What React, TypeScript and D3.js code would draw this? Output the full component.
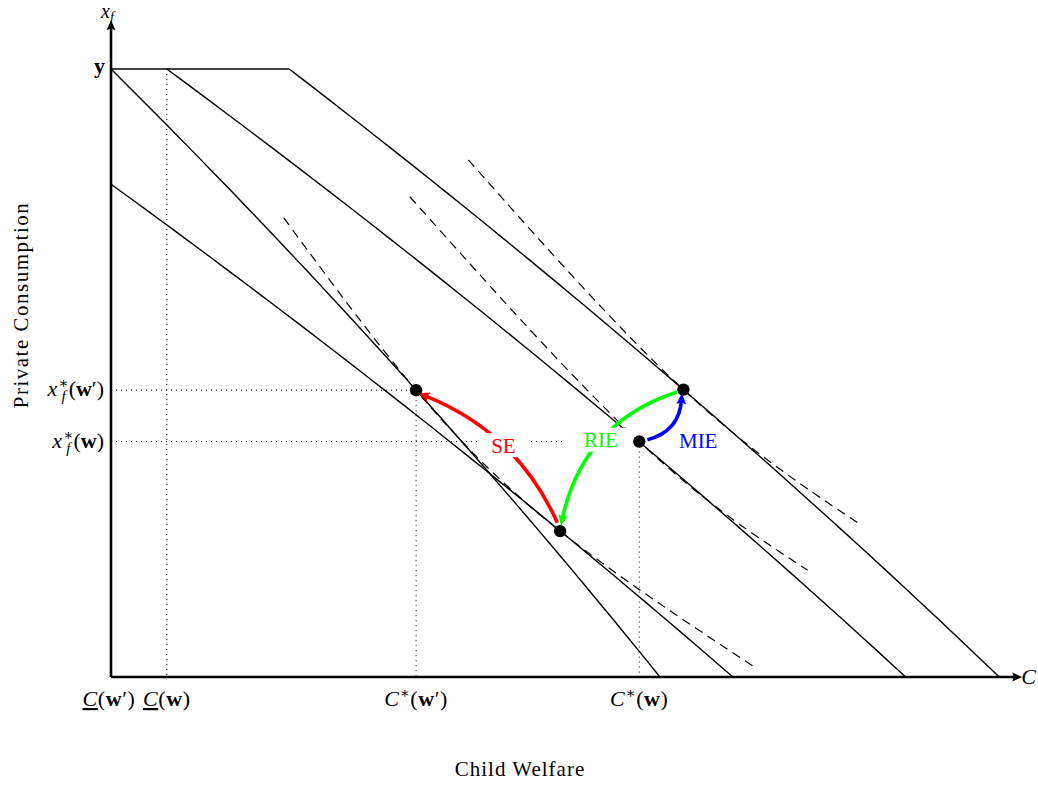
import * as d3 from 'd3';

// income level "y" on the x_f axis
const incomeXf = 10;

// minimum child welfare levels C(w'), C(w)
const cMinLabels = ["w′", "w"];
const cMinC = [0, 0.62];

// budget lines: w', compensated, w, w with more income
const budgetStartC = [0, 0, 0.62, 1.98];
const budgetStartXf = [10, 7.93, 10, 10];
const budgetEndC = [6.1, 6.91, 8.83, 9.87];

// optimal bundles: w', compensated, w, income-raised
const optC = [3.39, 4.99, 5.87, 6.36];
const optXf = [4.44, 2.2, 3.61, 4.45];

// indifference curves (dashed)
const ic1C = [1.92, 3.39, 4.99, 7.18];
const ic1Xf = [7.34, 4.44, 2.2, 0.12];
const ic2C = [3.32, 5.87, 7.74];
const ic2Xf = [7.71, 3.61, 1.6];
const ic3C = [3.97, 6.36, 8.34];
const ic3Xf = [8.36, 4.45, 2.29];

// effect arrows
const effectNames = ['SE', 'RIE', 'MIE'];
const effectColors = ['#ff0000', '#00ff00', '#0000ff'];
const effectFromC = [4.96, 6.29, 5.96];
const effectFromXf = [2.33, 4.41, 3.64];
const effectToC = [3.47, 5.01, 6.34];
const effectToXf = [4.36, 2.36, 4.31];
const effectBend = [19, 25, 10];

const axisMaxC = 10.08;
const axisMaxXf = 10.83;

const FONT = '"Liberation Serif", "DejaVu Serif", serif';

const zip = (a: number[], b: number[]) => a.map((v, i) => [v, b[i]] as [number, number]);

export default function App() {
  const width = 1038;
  const height = 785;

  const x = d3.scaleLinear().domain([0, 10]).range([111, 1011]);
  const y = d3.scaleSymlog().constant(40).domain([0, 10]).range([677, 69]);

  const seg = d3.line<[number, number]>().x(d => x(d[0])).y(d => y(d[1]));
  const smooth = d3.line<[number, number]>().x(d => x(d[0])).y(d => y(d[1])).curve(d3.curveNatural);

  // straight budget lines, sampled so the axis scale shapes them
  const budgets = budgetStartC.map((c, i) =>
    d3.range(0, 1.0001, 0.02).map(t => [c + t * (budgetEndC[i] - c), budgetStartXf[i] * (1 - t)] as [number, number]));
  const cap: [number, number][] = [[0, incomeXf], [budgetStartC[3], incomeXf]];
  const ics = [zip(ic1C, ic1Xf), zip(ic2C, ic2Xf), zip(ic3C, ic3Xf)];

  const arrows = effectNames.map((name, i) => {
    const x0 = x(effectFromC[i]), y0 = y(effectFromXf[i]);
    const x1 = x(effectToC[i]), y1 = y(effectToXf[i]);
    const dx = x1 - x0, dy = y1 - y0;
    const len = Math.hypot(dx, dy);
    const nx = -dy / len, ny = dx / len;
    const cx = (x0 + x1) / 2 + nx * 2 * effectBend[i];
    const cy = (y0 + y1) / 2 + ny * 2 * effectBend[i];
    const mx = 0.25 * x0 + 0.5 * cx + 0.25 * x1;
    const my = 0.25 * y0 + 0.5 * cy + 0.25 * y1;
    return { name, color: effectColors[i], d: `M${x0},${y0} Q${cx},${cy} ${x1},${y1}`, mx, my };
  });

  // dotted guides for the two chosen bundles
  const guideIdx = [0, 2];

  return (
    <svg width={width} height={height} style={{ position: 'absolute', left: 0, top: 0, background: '#fff' }}
      fontFamily={FONT}>
      <defs>
        {effectColors.map((c, i) => (
          <marker key={i} id={`head${i}`} viewBox="-8 -6 14 12" refX={0} refY={0}
            markerWidth={14} markerHeight={12} markerUnits="userSpaceOnUse" orient="auto">
            <path d="M5,0 L-6,-5 Q-3,0 -6,5 Z" fill={c} />
          </marker>
        ))}
        <marker id="axisHead" viewBox="-8 -6 14 12" refX={0} refY={0}
          markerWidth={14} markerHeight={12} markerUnits="userSpaceOnUse" orient="auto">
          <path d="M4,0 L-6,-4.5 Q-3.5,0 -6,4.5 Z" fill="#000" />
        </marker>
      </defs>

      {/* dotted guides */}
      <line x1={x(cMinC[1])} y1={y(incomeXf)} x2={x(cMinC[1])} y2={y(0)}
        stroke="#000" strokeWidth={1} strokeDasharray="1 4" />
      {guideIdx.map(i => (
        <g key={i}>
          <line x1={x(0)} y1={y(optXf[i])} x2={x(optC[i])} y2={y(optXf[i])}
            stroke="#000" strokeWidth={1} strokeDasharray="1 4" />
          <line x1={x(optC[i])} y1={y(optXf[i])} x2={x(optC[i])} y2={y(0)}
            stroke="#000" strokeWidth={1} strokeDasharray="1 4" />
        </g>
      ))}

      {/* indifference curves */}
      {ics.map((pts, i) => (
        <path key={i} d={smooth(pts) ?? ''} fill="none" stroke="#000" strokeWidth={1.2} strokeDasharray="9 6" />
      ))}

      {/* budget lines */}
      <path d={seg(cap) ?? ''} fill="none" stroke="#000" strokeWidth={1.4} />
      {budgets.map((b, i) => (
        <path key={i} d={seg(b) ?? ''} fill="none" stroke="#000" strokeWidth={1.4} />
      ))}

      {/* axes */}
      <line x1={x(0)} y1={y(0)} x2={x(axisMaxC)} y2={y(0)} stroke="#000" strokeWidth={2.6} markerEnd="url(#axisHead)" />
      <line x1={x(0)} y1={y(0)} x2={x(0)} y2={y(axisMaxXf)} stroke="#000" strokeWidth={2.6} markerEnd="url(#axisHead)" />

      {/* effect arrows */}
      {arrows.map((a, i) => (
        <path key={a.name} d={a.d} fill="none" stroke={a.color} strokeWidth={3.6} markerEnd={`url(#head${i})`} />
      ))}
      {arrows.map((a, i) => i < 2 ? (
        <g key={a.name}>
          <rect x={a.mx - (a.name.length * 9 + 8)} y={a.my - 12} width={a.name.length * 18 + 16} height={24} fill="#fff" />
          <text x={a.mx} y={a.my} dy="0.35em" textAnchor="middle" fontSize={21} fill={a.color}>{a.name}</text>
        </g>
      ) : (
        <text key={a.name} x={a.mx + 26} y={a.my + 15} dy="0.35em" textAnchor="middle" fontSize={21} fill={a.color}>{a.name}</text>
      ))}

      {/* bundles */}
      {optC.map((c, i) => (
        <circle key={i} cx={x(c)} cy={y(optXf[i])} r={6.2} fill="#000" />
      ))}

      {/* axis labels */}
      <text x={x(0) - 10} y={18} fontSize={20}>
        <tspan fontStyle="italic">x</tspan>
        <tspan fontSize={14} fontStyle="italic" dy={4}>f</tspan>
      </text>
      <text x={x(axisMaxC) + 3} y={y(0) + 7} fontSize={22} fontStyle="italic">C</text>
      <text x={x(0) - 6} y={y(incomeXf) + 4} fontSize={22} fontWeight="bold" textAnchor="end">y</text>

      {/* x_f* labels */}
      {[0, 2].map((idx, k) => (
        <text key={idx} x={x(0) - 7} y={y(optXf[idx]) + 6} fontSize={22} textAnchor="end">
          <tspan fontStyle="italic">x</tspan>
          <tspan fontSize={15} dy={-8} dx={1}>∗</tspan>
          <tspan fontSize={15} fontStyle="italic" dx={-7} dy={13}>f</tspan>
          <tspan dy={-5} dx={3}>(</tspan>
          <tspan fontWeight="bold">w</tspan>
          {k === 0 ? <tspan>′</tspan> : null}
          <tspan>)</tspan>
        </text>
      ))}

      {/* C labels on the horizontal axis */}
      {cMinC.map((c, i) => (
        <text key={i} x={x(c) + (i === 0 ? -2 : 0)} y={y(0) + 29} fontSize={22} textAnchor="middle" letterSpacing={0.6}>
          <tspan fontStyle="italic" style={{ textDecoration: 'underline' }}>C</tspan>
          <tspan>(</tspan>
          <tspan fontWeight="bold">w</tspan>
          {cMinLabels[i] === 'w′' ? <tspan>′</tspan> : null}
          <tspan>)</tspan>
        </text>
      ))}
      {[0, 2].map((idx, k) => (
        <text key={idx} x={x(optC[idx])} y={y(0) + 29} fontSize={22} textAnchor="middle" letterSpacing={0.6}>
          <tspan fontStyle="italic">C</tspan>
          <tspan fontSize={15} dy={-8}>∗</tspan>
          <tspan dy={8}>(</tspan>
          <tspan fontWeight="bold">w</tspan>
          {k === 0 ? <tspan>′</tspan> : null}
          <tspan>)</tspan>
        </text>
      ))}

      <text x={520} y={776} fontSize={21} textAnchor="middle" letterSpacing={1}>Child Welfare</text>
      <text transform="translate(28,305) rotate(-90)" fontSize={21} textAnchor="middle" letterSpacing={1.5}>Private Consumption</text>
    </svg>
  );
}
